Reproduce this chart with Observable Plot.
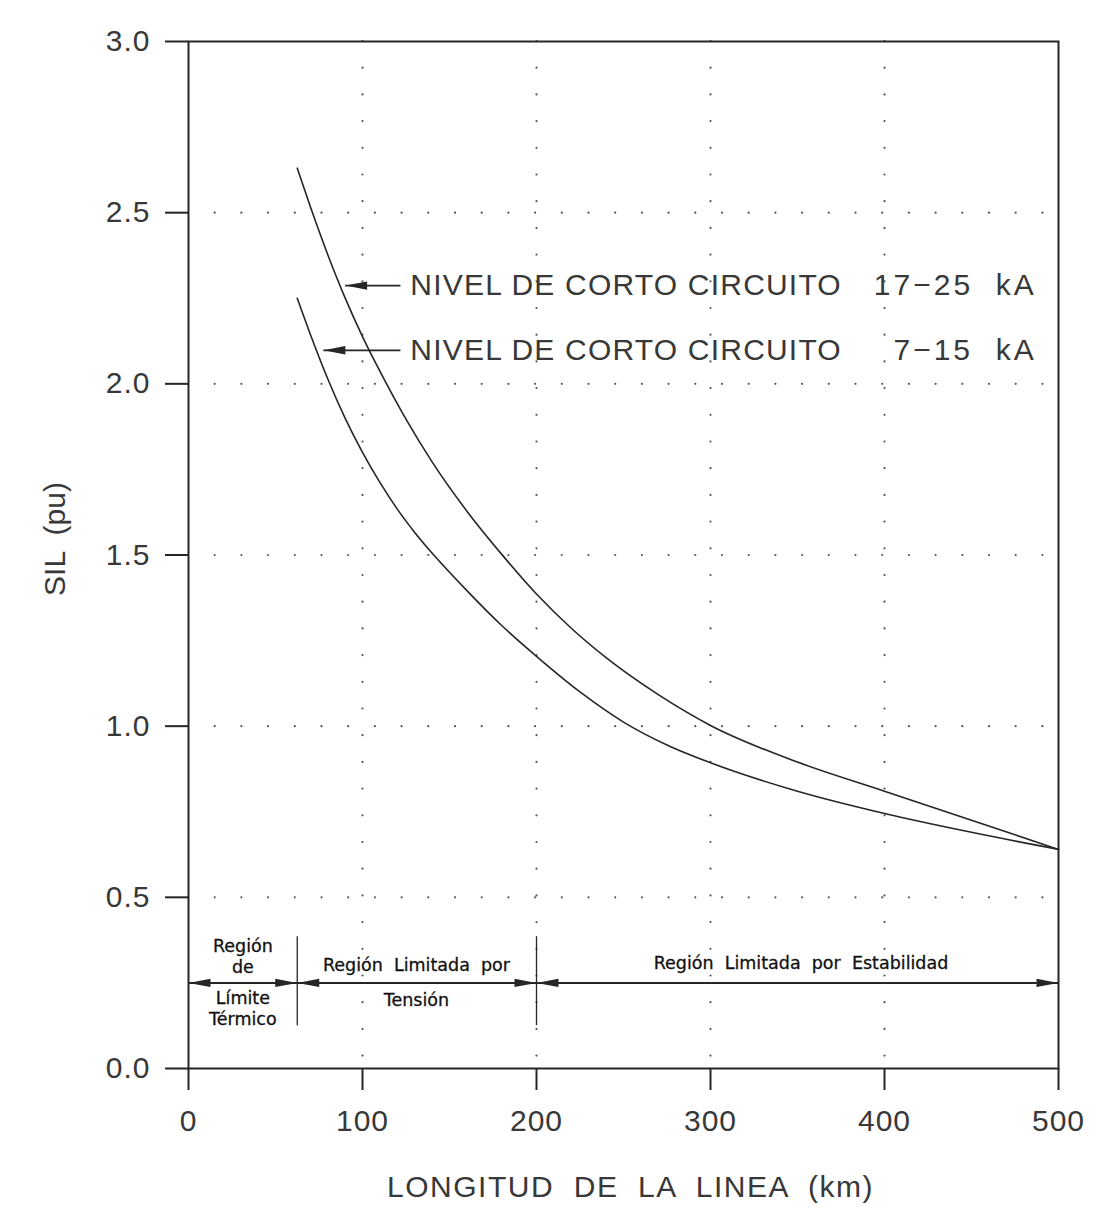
<!DOCTYPE html>
<html><head><meta charset="utf-8">
<script src="https://cdn.jsdelivr.net/npm/d3@7"></script>
<script src="https://cdn.jsdelivr.net/npm/@observablehq/plot@0.6"></script>
<style>
body{margin:0;background:#fff}
svg{display:block}
</style>
</head><body><div id="chart"></div>
<script>
// ---- data ----
const upperX = [62.5, 70, 80, 90, 100, 113, 125, 140, 160, 181, 200, 220, 240, 270, 300, 350, 400, 450, 500];
const upperY = [2.63, 2.518, 2.378, 2.251, 2.138, 2.008, 1.897, 1.772, 1.628, 1.496, 1.386, 1.286, 1.20, 1.092, 1.002, 0.895, 0.81, 0.725, 0.64];
const lowerX = [62.5, 70, 80, 90, 100, 110, 120, 130, 142, 160, 180, 200, 225, 250, 275, 300, 350, 400, 450, 500];
const lowerY = [2.25, 2.145, 2.015, 1.90, 1.80, 1.712, 1.634, 1.566, 1.494, 1.396, 1.294, 1.204, 1.10, 1.012, 0.945, 0.893, 0.81, 0.745, 0.69, 0.64];

const seriesNames = ["NIVEL DE CORTO CIRCUITO", "NIVEL DE CORTO CIRCUITO"];
const seriesRanges = ["17\u221225  kA", "7\u221215  kA"];
const labelY = [2.287, 2.098];
const labelTipX = [90, 77.5];
const labelTailX = 121.8;
const labelTextX = 127.5;
const labelEndX = 487.5;

const xTicks = [0, 100, 200, 300, 400, 500];
const yTicks = [0, 0.5, 1.0, 1.5, 2.0, 2.5, 3.0];
const xGrid = [100, 200, 300, 400];
const yGrid = [0.5, 1.0, 1.5, 2.0, 2.5];

const regionBounds = [0, 62.5, 200, 500];
const regionArrowY = 0.25;
const regionDividers = [62.5, 200];
const regionDividerY = [0.125, 0.385];
const regionTextLines = [
  {x: 31.25, y: 0.357, t: "Regi\u00f3n"},
  {x: 31.25, y: 0.294, t: "de"},
  {x: 31.25, y: 0.205, t: "L\u00edmite"},
  {x: 31.25, y: 0.143, t: "T\u00e9rmico"},
  {x: 131, y: 0.30, t: "Regi\u00f3n  Limitada  por"},
  {x: 131, y: 0.200, t: "Tensi\u00f3n"},
  {x: 352, y: 0.307, t: "Regi\u00f3n  Limitada  por  Estabilidad"}
];
const xTitle = "LONGITUD  DE  LA  LINEA  (km)";
const yTitle = "SIL  (pu)";

// ---- build tables ----
const upper = upperX.map((x, i) => ({x, y: upperY[i]}));
const lower = lowerX.map((x, i) => ({x, y: lowerY[i]}));
const labels = seriesNames.map((n, i) => ({name: n, range: seriesRanges[i], y: labelY[i], tip: labelTipX[i]}));
const segs = regionBounds.slice(0, -1).map((a, i) => ({a, b: regionBounds[i + 1]}));
const heads = segs.flatMap(s => [{x: s.a, dir: 180}, {x: s.b, dir: 0}]);

// filled narrow arrowhead, tip at origin pointing +x
const headSymbol = {draw(ctx) { ctx.moveTo(0, 0); ctx.lineTo(-22, -4.2); ctx.lineTo(-22, 4.2); ctx.closePath(); }};

const ink = "#262626";
const txt = "#383838";
const dotStyle = {stroke: "#555", strokeOpacity: 1, strokeWidth: 2.2, strokeDasharray: "0 26.7", strokeLinecap: "round"};

const chart = Plot.plot({
  width: 1098,
  height: 1207,
  marginLeft: 188,
  marginRight: 40,
  marginTop: 41,
  marginBottom: 139,
  x: {domain: [0, 500], label: null},
  y: {domain: [0, 3], label: null},
  style: {fontFamily: "'Liberation Sans', Arial, sans-serif", background: "#fff", color: ink},
  marks: [
    Plot.gridX(xGrid, dotStyle),
    Plot.gridY(yGrid, dotStyle),
    Plot.frame({stroke: ink, strokeWidth: 2}),
    Plot.axisY(yTicks, {tickSize: 23, tickPadding: 15, fontSize: 30, tickFormat: d => d.toFixed(1), label: null, stroke: ink, strokeWidth: 2, fill: txt, ariaDescription: "spaced1"}),
    Plot.axisX(xTicks, {tickSize: 22, tickPadding: 19, fontSize: 30, tickFormat: d => String(d), label: null, stroke: ink, strokeWidth: 2, fill: txt, ariaDescription: "spaced1"}),
    Plot.line(upper, {x: "x", y: "y", curve: "monotone-x", stroke: ink, strokeWidth: 1.6}),
    Plot.line(lower, {x: "x", y: "y", curve: "monotone-x", stroke: ink, strokeWidth: 1.6}),
    // series label arrows
    Plot.link(labels, {x1: "tip", x2: () => labelTailX, y1: "y", y2: "y", stroke: ink, strokeWidth: 1.8}),
    Plot.dot(labels, {x: "tip", y: "y", symbol: headSymbol, rotate: 180, fill: ink, stroke: "none", r: 5}),
    Plot.text(labels, {x: () => labelTextX, y: "y", text: "name", textAnchor: "start", fontSize: 30, fill: txt, ariaDescription: "spaced12"}),
    Plot.text(labels, {x: () => labelEndX, y: "y", text: "range", textAnchor: "end", fontSize: 30, fill: txt, ariaDescription: "spaced3"}),
    // region annotations
    Plot.ruleX(regionDividers, {y1: regionDividerY[0], y2: regionDividerY[1], stroke: ink, strokeWidth: 1.3}),
    Plot.link(segs, {x1: "a", x2: "b", y1: () => regionArrowY, y2: () => regionArrowY, stroke: ink, strokeWidth: 2}),
    Plot.dot(heads, {x: "x", y: () => regionArrowY, symbol: headSymbol, rotate: "dir", fill: ink, stroke: "none", r: 5}),
    Plot.text(regionTextLines, {x: "x", y: "y", text: "t", fontSize: 17.5, fontFamily: "'DejaVu Sans', sans-serif", fill: "#111", stroke: "#111", strokeWidth: 0.3}),
    // axis titles
    Plot.text([xTitle], {frameAnchor: "bottom", lineAnchor: "middle", textAnchor: "middle", dy: 119, dx: 7, fontSize: 30, fill: txt, ariaDescription: "spaced15"}),
    Plot.text([yTitle], {frameAnchor: "left", lineAnchor: "middle", textAnchor: "middle", dx: -133, dy: -16, rotate: -90, fontSize: 30, fill: txt})
  ]
});
chart.querySelectorAll('[aria-description="spaced1"] text').forEach(t => t.style.letterSpacing = "1px");
chart.querySelectorAll('[aria-description="spaced12"] text').forEach(t => t.style.letterSpacing = "1.2px");
chart.querySelectorAll('[aria-description="spaced3"] text').forEach(t => t.style.letterSpacing = "3px");
chart.querySelectorAll('[aria-description="spaced15"] text').forEach(t => t.style.letterSpacing = "1.5px");
document.getElementById("chart").appendChild(chart);
</script>
</body></html>
